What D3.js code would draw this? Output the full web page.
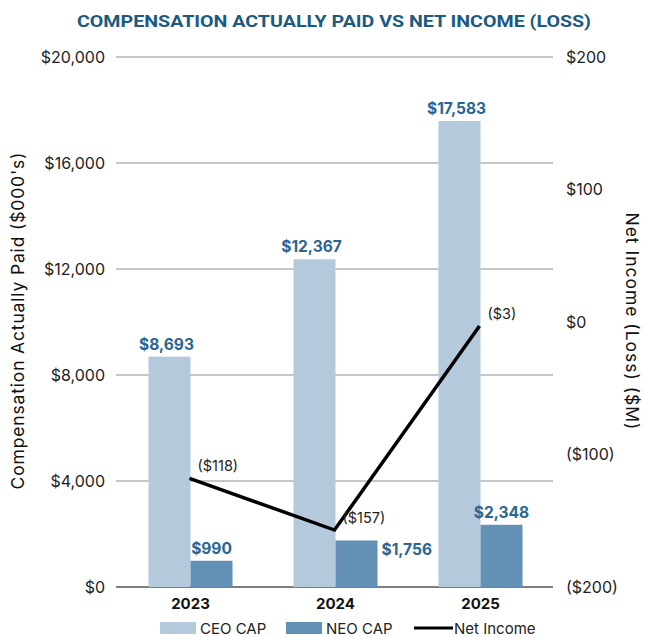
<!DOCTYPE html>
<html>
<head>
<meta charset="utf-8">
<script src="https://cdn.jsdelivr.net/npm/d3@7"></script>
<style>
  body { margin: 0; background: #fff; }
  text { font-family: Inter, "Open Sans", sans-serif; }
</style>
</head>
<body>
<div id="chart"></div>
<script>
var years = ["2023", "2024", "2025"];
var ceoCap = [8693, 12367, 17583];
var neoCap = [990, 1756, 2348];
var netIncome = [-118, -157, -3];
var leftTicks = [0, 4000, 8000, 12000, 16000, 20000];
var rightTicks = [-200, -100, 0, 100, 200];

var CHART = {
    WIDTH: 645,
    HEIGHT: 637,
    LEFT: 116,
    RIGHT: 553,
    TOP: 57,
    BOTTOM: 587,
    BAR_W: 42
};

var svg = d3.select("#chart").append("svg")
    .attr("width", CHART.WIDTH)
    .attr("height", CHART.HEIGHT);

var x0 = d3.scaleBand().domain(years).range([118, 553]);
var x1 = d3.scaleBand().domain(["CEO", "NEO"])
    .range([(x0.bandwidth() - 2 * CHART.BAR_W) / 2, (x0.bandwidth() + 2 * CHART.BAR_W) / 2]);
var yL = d3.scaleLinear().domain([0, 20000]).range([CHART.BOTTOM, CHART.TOP]);
var yR = d3.scaleLinear().domain([-200, 200]).range([CHART.BOTTOM, CHART.TOP]);

// title
svg.append("text")
    .attr("x", 334).attr("y", 27)
    .attr("text-anchor", "middle")
    .attr("textLength", 514).attr("lengthAdjust", "spacingAndGlyphs")
    .style("font-family", "Roboto, sans-serif")
    .style("font-size", "17px").style("font-weight", "700")
    .style("fill", "#1b5a82")
    .text("COMPENSATION ACTUALLY PAID VS NET INCOME (LOSS)");

// grid
svg.append("g").selectAll("line").data(leftTicks).join("line")
    .attr("x1", CHART.LEFT).attr("x2", CHART.RIGHT)
    .attr("y1", function (d) { return yL(d); })
    .attr("y2", function (d) { return yL(d); })
    .style("stroke", function (d) { return d === 0 ? "#555" : "#b3b3b3"; })
    .style("stroke-width", 1.3);

// left labels
svg.append("g").selectAll("text").data(leftTicks).join("text")
    .attr("x", 105)
    .attr("y", function (d) { return yL(d) + 5.5; })
    .attr("text-anchor", "end")
    .style("font-size", "16px").style("fill", "#222")
    .text(function (d) { return "$" + d3.format(",")(d); });

// right labels
svg.append("g").selectAll("text").data(rightTicks).join("text")
    .attr("x", 566)
    .attr("y", function (d) { return yR(d) + 5.5; })
    .style("font-size", "16px").style("fill", "#222")
    .text(function (d) { return d < 0 ? "($" + (-d) + ")" : "$" + d; });

// axis titles
svg.append("text")
    .attr("transform", "translate(24,321) rotate(-90)")
    .attr("text-anchor", "middle")
    .attr("textLength", 337)
    .style("font-size", "17.5px").style("fill", "#111")
    .text("Compensation Actually Paid ($000's)");
svg.append("text")
    .attr("transform", "translate(626,321) rotate(90)")
    .attr("text-anchor", "middle")
    .attr("textLength", 217)
    .style("font-size", "17.5px").style("fill", "#111")
    .text("Net Income (Loss) ($M)");

// bars
var groups = svg.append("g").selectAll("g").data(years).join("g")
    .attr("transform", function (d) { return "translate(" + x0(d) + ",0)"; });

groups.append("rect")
    .attr("x", x1("CEO")).attr("width", x1.bandwidth())
    .attr("y", function (d, i) { return yL(ceoCap[i]); })
    .attr("height", function (d, i) { return yL(0) - yL(ceoCap[i]); })
    .style("fill", "#b5c9dd");
groups.append("rect")
    .attr("x", x1("NEO")).attr("width", x1.bandwidth())
    .attr("y", function (d, i) { return yL(neoCap[i]); })
    .attr("height", function (d, i) { return yL(0) - yL(neoCap[i]); })
    .style("fill", "#6391b5");

// bar labels
groups.append("text")
    .attr("x", x1("CEO") + x1.bandwidth() / 2 - 3)
    .attr("y", function (d, i) { return yL(ceoCap[i]) - 7; })
    .attr("text-anchor", "middle")
    .style("font-size", "15.5px").style("font-weight", "700").style("fill", "#2a6593")
    .text(function (d, i) { return "$" + d3.format(",")(ceoCap[i]); });
groups.append("text")
    .attr("x", function (d, i) { return i === 1 ? x1("NEO") + x1.bandwidth() + 4 : x1("NEO") + x1.bandwidth() / 2; })
    .attr("y", function (d, i) { return i === 1 ? yL(neoCap[i]) + 15 : yL(neoCap[i]) - 7; })
    .attr("text-anchor", function (d, i) { return i === 1 ? "start" : "middle"; })
    .style("font-size", "15.5px").style("font-weight", "700").style("fill", "#2a6593")
    .text(function (d, i) { return "$" + d3.format(",")(neoCap[i]); });

// year labels
groups.append("text")
    .attr("x", x0.bandwidth() / 2)
    .attr("y", 609)
    .attr("text-anchor", "middle")
    .style("font-size", "15px").style("font-weight", "700").style("fill", "#111")
    .text(function (d) { return d; });

// net income line
var line = d3.line()
    .x(function (d, i) { return x0(years[i]) + x0.bandwidth() / 2 - 1; })
    .y(function (d) { return yR(d); });
svg.append("path")
    .datum(netIncome)
    .attr("d", line)
    .style("fill", "none").style("stroke", "#000").style("stroke-width", 3.5);

svg.append("g").selectAll("text").data(netIncome).join("text")
    .attr("x", function (d, i) { return x0(years[i]) + x0.bandwidth() / 2 + 7; })
    .attr("y", function (d) { return yR(d) - 7; })
    .style("font-size", "14.5px").style("fill", "#222")
    .text(function (d) { return d < 0 ? "($" + (-d) + ")" : "$" + d; });

// legend
var legend = svg.append("g");
legend.append("rect").attr("x", 160).attr("y", 622).attr("width", 36).attr("height", 12).style("fill", "#b5c9dd");
legend.append("text").attr("x", 200).attr("y", 634).style("font-size", "15px").style("fill", "#222").text("CEO CAP");
legend.append("rect").attr("x", 286).attr("y", 622).attr("width", 36).attr("height", 12).style("fill", "#6391b5");
legend.append("text").attr("x", 326).attr("y", 634).style("font-size", "15px").style("fill", "#222").text("NEO CAP");
legend.append("line").attr("x1", 414).attr("x2", 453).attr("y1", 628).attr("y2", 628).style("stroke", "#000").style("stroke-width", 3);
legend.append("text").attr("x", 454).attr("y", 634).style("font-size", "15px").style("fill", "#222").text("Net Income");
</script>
</body>
</html>
